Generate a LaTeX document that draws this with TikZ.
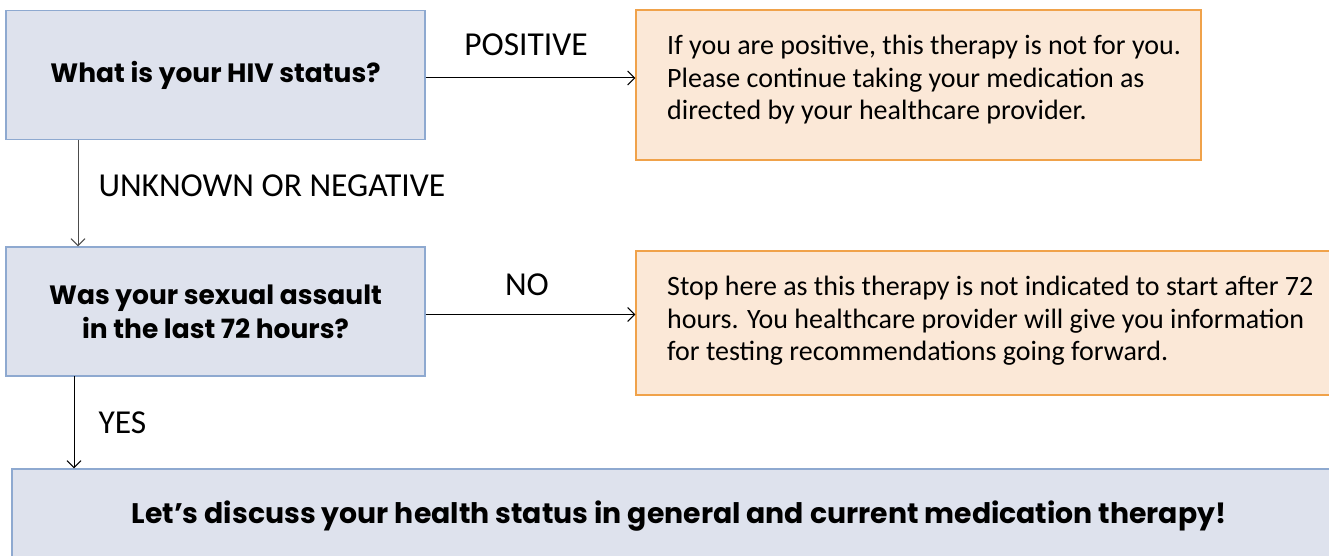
\documentclass[tikz,border=0pt]{standalone}
\usepackage{fontspec}
\setmainfont{Carlito}
\newfontfamily\headfont{Poppins}
\usetikzlibrary{arrows.meta}
\definecolor{qfill}{HTML}{DEE2ED}
\definecolor{qline}{HTML}{8EA9D0}
\definecolor{afill}{HTML}{FBE8D7}
\definecolor{aline}{HTML}{F0A24A}

\begin{document}
\begin{tikzpicture}[x=1pt, y=-1pt,
        qbox/.style={draw=qline, fill=qfill, line width=1.3pt, minimum width=419pt, minimum height=129pt, align=center, font=\headfont\bfseries\fontsize{26.5}{34}\selectfont},
        abox/.style={draw=aline, fill=afill, line width=1.3pt},
        answer/.style={anchor=north west, align=left, inner sep=0pt, font=\fontsize{28}{32.5}\selectfont},
        choice/.style={font=\fontsize{33.5}{36}\selectfont},
        flow/.style={-{Straight Barb[length=7pt,width=14pt]}, line width=1pt}]

        \useasboundingbox (0,0) rectangle (1329,556);

        \node[qbox] (hiv) at (215.5,75) {What is your HIV status?};
        \node[abox, minimum width=565pt, minimum height=150pt] (pos) at (918.5,85) {};
        \node[answer] (postext) at (667,35) {If you are positive, this therapy is not for you.\\Please continue taking your medication as\\directed by your healthcare provider.};

        \node[qbox] (sex) at (215.5,311.5) {Was your sexual assault\\in the last 72 hours?};
        \node[abox, minimum width=710pt, minimum height=144pt] (late) at (991,323) {};
        \node[answer] (latetext) at (667,276) {Stop here as this therapy is not indicated to start after 72\\hours. You healthcare provider will give you information\\for testing recommendations going forward.};

        \node[qbox, minimum width=1334pt, minimum height=95pt, font=\headfont\bfseries\fontsize{28.3}{34}\selectfont] (talk) at (679,516.5) {Let’s discuss your health status in general and current medication therapy!};

        \coordinate (hivout) at (78,140);
        \coordinate (sexout) at (74,376);

        \draw[flow] ([yshift=-3pt]hiv.east) -- ([yshift=-3pt]hiv.east -| pos.west);
        \node[choice] (positive) at (526,45) {POSITIVE};
        \draw[flow, black!70] (hivout) -- (hivout |- sex.north);
        \node[choice, anchor=west] (unknown) at (95,186) {UNKNOWN OR NEGATIVE};
        \draw[flow] ([yshift=-3pt]sex.east) -- ([yshift=-3pt]sex.east -| late.west);
        \node[choice] (no) at (527,285) {NO};
        \draw[flow] (sexout) -- (sexout |- talk.north);
        \node[choice, anchor=west] (yes) at (95,423) {YES};

\end{tikzpicture}
\end{document}
